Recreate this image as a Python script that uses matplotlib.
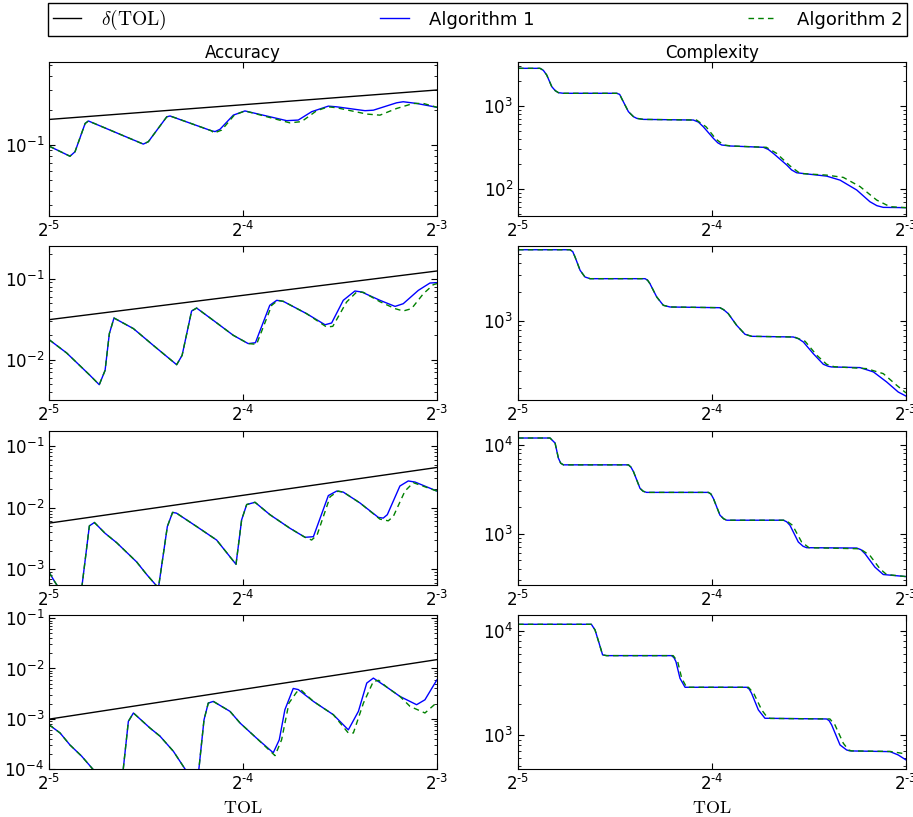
import numpy as np
import matplotlib
matplotlib.use("Agg")
import matplotlib.pyplot as plt
from matplotlib.ticker import NullFormatter, NullLocator, FuncFormatter

# x values are stored as log2(TOL)

# --- Accuracy, row 1 ---
acc1_e = [-5.00, -4.892, -4.866, -4.814, -4.797, -4.514, -4.488, -4.393, -4.376, -4.162,
          -4.144, -4.119, -4.050, -3.990, -3.775, -3.715, -3.646, -3.560, -3.517, -3.371,
          -3.328, -3.208, -3.174, -3.105, -3.00]
acc1_a1 = [0.098, 0.080, 0.0875, 0.154, 0.162, 0.102, 0.107, 0.176, 0.179, 0.133,
           0.131, 0.137, 0.182, 0.198, 0.163, 0.165, 0.195, 0.218, 0.215, 0.199,
           0.201, 0.233, 0.238, 0.230, 0.213]
acc1_g_e = acc1_e[:10] + [-4.150, -4.110, -4.045, -3.990, -3.758, -3.698, -3.620, -3.560,
                          -3.517, -3.362, -3.294, -3.208, -3.122, -3.070, -3.00]
acc1_a2 = acc1_a1[:10] + [0.127, 0.135, 0.182, 0.198, 0.156, 0.160, 0.199, 0.215,
                          0.211, 0.186, 0.182, 0.208, 0.230, 0.230, 0.213]
acc1_delta = [0.167, 0.301]

# --- Accuracy, row 2 ---
acc2_e = [-5.00, -4.909, -4.789, -4.741, -4.711, -4.689, -4.665, -4.565, -4.462, -4.342,
          -4.314, -4.265, -4.239, -4.153, -4.050, -3.973, -3.936, -3.862, -3.826, -3.792,
          -3.672, -3.577, -3.543, -3.483, -3.423, -3.388, -3.294, -3.216, -3.174, -3.096,
          -3.036, -3.00]
acc2_a1 = [0.0177, 0.0121, 0.00641, 0.00491, 0.00738, 0.0210, 0.0327, 0.0242, 0.0150, 0.00867,
           0.0113, 0.0399, 0.0434, 0.0306, 0.0200, 0.0158, 0.0162, 0.0469, 0.0541, 0.0525,
           0.0370, 0.0270, 0.0284, 0.0541, 0.0705, 0.0685, 0.0541, 0.0455, 0.0491, 0.0718,
           0.0885, 0.0893]
acc2_g_e = acc2_e[:16] + [-3.930, -3.852, -3.820, -3.792, -3.672, -3.569, -3.537, -3.466,
                          -3.414, -3.380, -3.294, -3.216, -3.174, -3.131, -3.070, -3.019, -3.00]
acc2_a2 = acc2_a1[:16] + [0.0155, 0.0469, 0.0541, 0.0525, 0.0370, 0.0253, 0.0258, 0.0515,
                          0.0685, 0.0680, 0.0520, 0.0427, 0.0399, 0.0427, 0.0653, 0.0843, 0.0870]
acc2_delta = [0.0312, 0.1245]

# --- Accuracy, row 3 ---
acc3_e = [-5.00, -4.969, -4.930, -4.840, -4.792, -4.766, -4.711, -4.651, -4.548, -4.497,
          -4.436, -4.390, -4.363, -4.343, -4.239, -4.136, -4.036, -4.007, -3.981, -3.938,
          -3.861, -3.758, -3.680, -3.637, -3.560, -3.517, -3.483, -3.397, -3.302, -3.277,
          -3.256, -3.191, -3.148, -3.113, -3.00]
acc3_a1 = [9.0e-4, 6.2e-4, 4.0e-4, 3.0e-4, 0.00509, 0.00578, 0.00386, 0.00271, 0.00132, 8.3e-4,
           5.0e-4, 0.00497, 0.00843, 0.0082, 0.00497, 0.00300, 0.00121, 0.00638, 0.0113, 0.0123,
           0.00773, 0.00466, 0.00332, 0.00340, 0.0158, 0.0187, 0.0180, 0.0120, 0.00698, 0.00681,
           0.00773, 0.0226, 0.0273, 0.0262, 0.0187]
acc3_g_e = acc3_e[:23] + [-3.646, -3.618, -3.551, -3.510, -3.483, -3.397, -3.294, -3.251,
                          -3.225, -3.165, -3.122, -3.00]
acc3_a2 = acc3_a1[:23] + [0.00300, 0.00362, 0.0151, 0.0187, 0.0180, 0.0120, 0.00655, 0.00615,
                          0.00725, 0.0187, 0.0256, 0.0187]
acc3_delta = [0.00564, 0.0452]

# --- Accuracy, row 4 ---
acc4_e = [-5.00, -4.943, -4.892, -4.832, -4.775, -4.700, -4.620, -4.591, -4.565, -4.479,
          -4.428, -4.359, -4.299, -4.250, -4.230, -4.201, -4.179, -4.153, -4.067, -4.015,
          -3.930, -3.844, -3.813, -3.784, -3.741, -3.715, -3.637, -3.534, -3.457, -3.405,
          -3.362, -3.328, -3.259, -3.191, -3.105, -3.062, -3.00]
acc4_a1 = [7.6e-4, 5.2e-4, 3.0e-4, 1.8e-4, 1.0e-4, 5.0e-5, 8.0e-5, 8.85e-4, 0.00130, 6.5e-4,
           4.5e-4, 2.25e-4, 1.0e-4, 6.0e-5, 8.0e-5, 9.5e-4, 0.00205, 0.00221, 0.00140, 8.2e-4,
           4.1e-4, 2.1e-4, 3.8e-4, 0.00151, 0.00400, 0.00380, 0.00221, 0.00120, 6.0e-4, 0.00140,
           0.00512, 0.00643, 0.00426, 0.00278, 0.00190, 0.00238, 0.00596]
acc4_g_e = acc4_e[:21] + [-3.835, -3.801, -3.763, -3.723, -3.700, -3.637, -3.534, -3.457,
                          -3.431, -3.379, -3.328, -3.300, -3.259, -3.191, -3.139, -3.062, -3.00]
acc4_a2 = acc4_a1[:21] + [1.84e-4, 3.8e-4, 0.00205, 0.00340, 0.00370, 0.00221, 0.00120, 5.2e-4,
                          5.2e-4, 0.00205, 0.00552, 0.00580, 0.00426, 0.00278, 0.00176, 0.00130, 0.00211]
acc4_delta = [9.8e-4, 0.0150]

# --- Complexity, row 1 ---
comp1_e = [-5.00, -4.887, -4.870, -4.852, -4.826, -4.808, -4.792, -4.766, -4.491, -4.476,
           -4.466, -4.431, -4.405, -4.388, -4.354, -4.096, -4.070, -4.045, -3.993, -3.970,
           -3.950, -3.907, -3.735, -3.710, -3.684, -3.615, -3.590, -3.564, -3.512, -3.409,
           -3.340, -3.254, -3.186, -3.150, -3.117, -3.00]
comp1_a1 = [2845, 2845, 2700, 2360, 1710, 1530, 1449, 1423, 1423, 1380,
            1237, 855, 745, 710, 690, 678, 640, 563, 408, 360,
            339, 330, 318, 300, 269, 195, 170, 157, 152, 143,
            128, 97.3, 70.3, 63, 60.1, 59.6]
comp1_g_e = comp1_e[:15] + [-4.080, -4.030, -3.980, -3.940, -3.900, -3.720, -3.667, -3.598,
                            -3.546, -3.409, -3.323, -3.237, -3.151, -3.082, -3.00]
comp1_a2 = comp1_a1[:15] + [678, 560, 400, 339, 330, 318, 269, 190,
                            154, 147, 138, 107, 73.6, 61.2, 59.6]

# --- Complexity, row 2 ---
comp2_e = [-5.00, -4.732, -4.718, -4.706, -4.680, -4.655, -4.629, -4.345, -4.332, -4.320,
           -4.285, -4.251, -4.216, -3.959, -3.940, -3.916, -3.873, -3.830, -3.796, -3.581,
           -3.555, -3.529, -3.478, -3.426, -3.400, -3.383, -3.237, -3.168, -3.100, -3.040,
           -3.00]
comp2_a1 = [5495, 5495, 5250, 4613, 3357, 2864, 2750, 2750, 2650, 2443,
            1775, 1455, 1397, 1374, 1310, 1191, 902, 728, 693, 682,
            655, 605, 458, 355, 338, 333, 328, 296, 233, 183,
            166]
comp2_g_e = comp2_e[:19] + [-3.575, -3.520, -3.460, -3.409, -3.370, -3.203, -3.117, -3.048, -3.00]
comp2_a2 = comp2_a1[:19] + [682, 615, 441, 355, 335, 320, 284, 215, 179]

# --- Complexity, row 3 ---
comp3_e = [-5.00, -4.835, -4.809, -4.792, -4.780, -4.766, -4.431, -4.418, -4.405, -4.371,
           -4.355, -4.337, -4.019, -4.006, -3.993, -3.959, -3.940, -3.924, -3.632, -3.615,
           -3.598, -3.555, -3.530, -3.512, -3.254, -3.232, -3.211, -3.160, -3.117, -3.00]
comp3_a1 = [11900, 11900, 10440, 7070, 6200, 5940, 5940, 5600, 4990, 3228,
            3000, 2911, 2911, 2800, 2490, 1614, 1470, 1416, 1416, 1360,
            1242, 805, 720, 695, 689, 660, 594, 420, 347, 329]
comp3_g_e = comp3_e[:18] + [-3.620, -3.585, -3.538, -3.500, -3.237, -3.186, -3.134, -3.100, -3.00]
comp3_a2 = comp3_a1[:18] + [1416, 1242, 805, 695, 676, 569, 402, 347, 329]

# --- Complexity, row 4 ---
comp4_e = [-5.00, -4.622, -4.603, -4.582, -4.564, -4.543, -4.208, -4.196, -4.186, -4.165,
           -4.139, -3.821, -3.808, -3.796, -3.761, -3.727, -3.409, -3.396, -3.383, -3.340,
           -3.306, -3.289, -3.082, -3.040, -3.00]
comp4_a1 = [11500, 11500, 10150, 7570, 5850, 5760, 5760, 5500, 5050, 3490,
            2864, 2864, 2750, 2508, 1738, 1445, 1423, 1370, 1247, 802,
            718, 703, 692, 643, 576]
comp4_g_e = comp4_e[:6] + [-4.200, -4.177, -4.156, -4.131, -3.812, -3.785, -3.744, -3.718,
                           -3.700, -3.392, -3.366, -3.323, -3.296, -3.280, -3.082, -3.00]
comp4_a2 = comp4_a1[:6] + [5760, 5050, 3490, 2864, 2864, 2508, 1738, 1500,
                           1440, 1423, 1247, 832, 718, 703, 695, 658]

delta_e = [-5.0, -3.0]

acc_ylim = [(0.0242, 0.527), (0.00315, 0.251), (5.66e-4, 0.179), (1e-4, 0.116)]
comp_ylim = [(47.3, 3390), (150, 5960), (267, 14400), (472, 14130)]

plt.rcParams["font.size"] = 12
plt.rcParams["axes.unicode_minus"] = False
plt.rcParams["xtick.direction"] = "in"
plt.rcParams["ytick.direction"] = "in"
plt.rcParams["xtick.top"] = True
plt.rcParams["ytick.right"] = True
plt.rcParams["xtick.major.size"] = 4
plt.rcParams["ytick.major.size"] = 4
plt.rcParams["xtick.minor.size"] = 2
plt.rcParams["ytick.minor.size"] = 2

fig, axes = plt.subplots(4, 2, figsize=(9.13, 8.17), dpi=100)
fig.subplots_adjust(left=0.0537, right=0.9923, bottom=0.0588, top=0.9241,
                    hspace=0.197, wspace=0.209)

acc = [(acc1_e, acc1_a1, acc1_g_e, acc1_a2, acc1_delta),
       (acc2_e, acc2_a1, acc2_g_e, acc2_a2, acc2_delta),
       (acc3_e, acc3_a1, acc3_g_e, acc3_a2, acc3_delta),
       (acc4_e, acc4_a1, acc4_g_e, acc4_a2, acc4_delta)]
comp = [(comp1_e, comp1_a1, comp1_g_e, comp1_a2),
        (comp2_e, comp2_a1, comp2_g_e, comp2_a2),
        (comp3_e, comp3_a1, comp3_g_e, comp3_a2),
        (comp4_e, comp4_a1, comp4_g_e, comp4_a2)]

for i in range(4):
    ax = axes[i, 0]
    e1, v1, e2, v2, d = acc[i]
    ax.plot(2.0 ** np.array(delta_e), d, "k-", lw=1.0, label=r"$\delta(\mathrm{TOL})$")
    ax.plot(2.0 ** np.array(e1), v1, "b-", lw=1.0, label="Algorithm 1")
    ax.plot(2.0 ** np.array(e2), v2, "g--", lw=1.0, dashes=(4, 3), label="Algorithm 2")
    ax.set_ylim(acc_ylim[i])

    ax = axes[i, 1]
    e1, v1, e2, v2 = comp[i]
    ax.plot(2.0 ** np.array(e1), v1, "b-", lw=1.0)
    ax.plot(2.0 ** np.array(e2), v2, "g--", lw=1.0, dashes=(4, 3))
    ax.set_ylim(comp_ylim[i])


def pow2_label(v, pos):
    # short hyphen in the exponent, as in the picture
    return r"$\mathdefault{2^{\text{-}%d}}$" % round(-np.log2(v))


for ax in axes.flat:
    ax.set_xscale("log", base=2)
    ax.set_yscale("log")
    ax.set_xlim(2.0 ** -5, 2.0 ** -3)
    ax.xaxis.set_minor_locator(NullLocator())
    ax.xaxis.set_major_formatter(FuncFormatter(pow2_label))
    ax.yaxis.set_minor_formatter(NullFormatter())
    ax.tick_params(labelsize=12)

axes[0, 0].set_title("Accuracy", fontsize=12, pad=3)
axes[0, 1].set_title("Complexity", fontsize=12, pad=3)
axes[3, 0].set_xlabel(r"$\mathrm{TOL}$", math_fontfamily="cm", fontsize=13)
axes[3, 1].set_xlabel(r"$\mathrm{TOL}$", math_fontfamily="cm", fontsize=13)

h, l = axes[0, 0].get_legend_handles_labels()
leg = fig.legend(h, l, loc="upper left", bbox_to_anchor=(0.0526, 0.9963, 0.941, 0.0),
                 mode="expand", ncol=3, borderaxespad=0, borderpad=0.25, fancybox=False,
                 framealpha=1, edgecolor="black", handlelength=1.6, handletextpad=1.1,
                 fontsize=13)
leg.get_frame().set_linewidth(1.0)
leg.get_texts()[0].set_math_fontfamily("cm")
leg.get_texts()[0].set_fontsize(14)

fig.savefig("out.png", dpi=100)
